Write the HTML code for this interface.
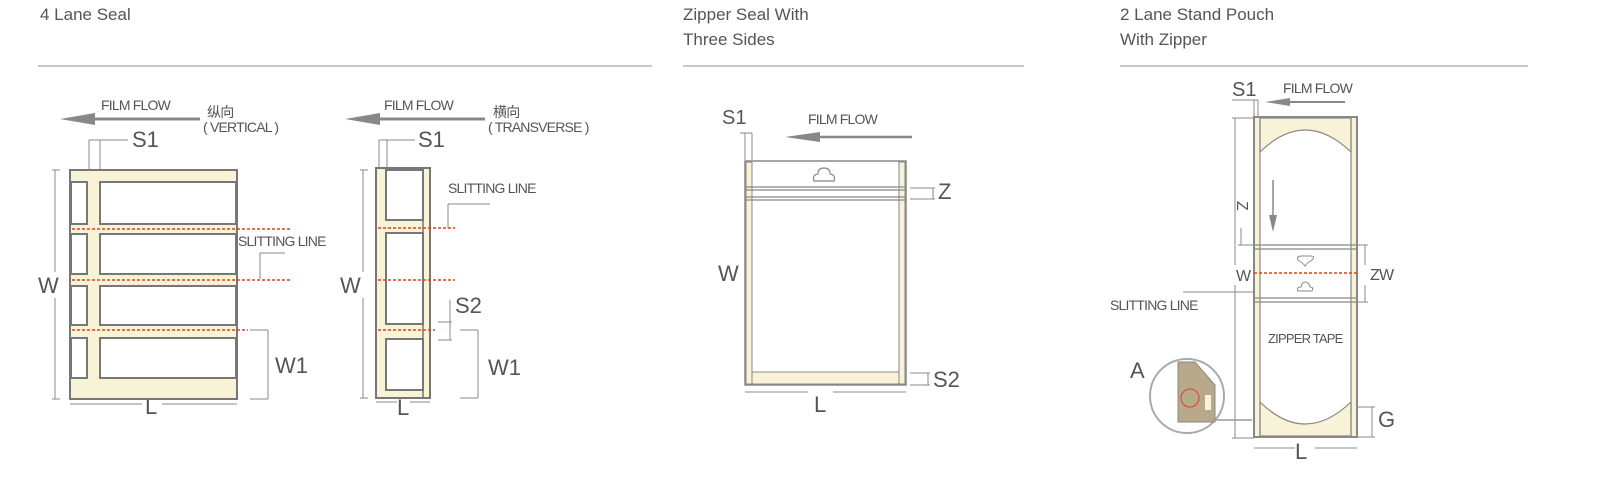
<!DOCTYPE html>
<html><head><meta charset="utf-8"><style>
html,body{margin:0;padding:0;background:#fff;width:1600px;height:479px;overflow:hidden}
svg{display:block}
text{font-family:"Liberation Sans","Noto Sans CJK SC",sans-serif;fill:#555}
.t{font-size:17px;fill:#555}
.s{font-size:14px;letter-spacing:-0.8px}
.b{font-size:22px}
</style></head><body>
<svg width="1600" height="479" viewBox="0 0 1600 479" xmlns="http://www.w3.org/2000/svg">
<defs>
<marker id="ah" markerWidth="10" markerHeight="8" refX="1" refY="4" orient="auto" markerUnits="userSpaceOnUse"><path d="M0,4 L28,0 L28,8 Z" fill="#888"/></marker>
</defs>
<!-- titles -->
<text x="40" y="20" class="t">4 Lane Seal</text>
<text x="683" y="20" class="t">Zipper Seal With</text>
<text x="683" y="45" class="t">Three Sides</text>
<text x="1120" y="20" class="t">2 Lane Stand Pouch</text>
<text x="1120" y="45" class="t">With Zipper</text>
<g stroke="#b5b5b5" stroke-width="1.5">
<line x1="38" y1="66" x2="652" y2="66"/><line x1="683" y1="66" x2="1024" y2="66"/><line x1="1120" y1="66" x2="1528" y2="66"/>
</g>

<!-- Diagram 1 -->
<g stroke="#888" stroke-width="3" fill="none"><line x1="88" y1="119" x2="200" y2="119"/></g>
<path d="M60,119 L95,113 L95,125 Z" fill="#888"/>
<text x="101" y="110" class="s">FILM  FLOW</text>
<text x="207" y="117" class="s">纵向</text>
<text x="203" y="132" class="s">( VERTICAL )</text>
<g stroke="#888" stroke-width="1" fill="none">
<line x1="89" y1="140" x2="89" y2="170"/><line x1="100" y1="140" x2="100" y2="170"/><line x1="89" y1="140" x2="128" y2="140"/>
<line x1="55" y1="170" x2="55" y2="272"/><line x1="55" y1="298" x2="55" y2="399"/>
<line x1="52" y1="170" x2="60" y2="170"/><line x1="52" y1="399" x2="60" y2="399"/>
<line x1="70" y1="404" x2="142" y2="404"/><line x1="162" y1="404" x2="237" y2="404"/>
<line x1="250" y1="330" x2="268" y2="330"/><line x1="268" y1="330" x2="268" y2="399"/><line x1="250" y1="399" x2="268" y2="399"/>
<line x1="260" y1="253" x2="260" y2="279"/><line x1="260" y1="253" x2="285" y2="253"/>
</g>
<text x="132" y="147" class="b">S1</text>
<text x="38" y="293" class="b">W</text>
<text x="145" y="414" class="b">L</text>
<text x="275" y="373" class="b">W1</text>
<text x="238" y="246" class="s">SLITTING LINE</text>
<rect x="70" y="170" width="167" height="229" fill="#f8f3d6" stroke="#777" stroke-width="2"/>
<g fill="#fff" stroke="#777" stroke-width="2">
<rect x="71" y="182" width="16" height="42"/><rect x="100" y="182" width="136" height="42"/>
<rect x="71" y="234" width="16" height="40"/><rect x="100" y="234" width="136" height="40"/>
<rect x="71" y="286" width="16" height="39"/><rect x="100" y="286" width="136" height="39"/>
<rect x="71" y="338" width="16" height="40"/><rect x="100" y="338" width="136" height="40"/>
</g>
<g stroke="#d9441c" stroke-width="1.5" stroke-dasharray="3,2">
<line x1="72" y1="229" x2="290" y2="229"/><line x1="72" y1="280" x2="290" y2="280"/><line x1="72" y1="330" x2="248" y2="330"/>
</g>

<!-- Diagram 2 -->
<g stroke="#888" stroke-width="3"><line x1="373" y1="119" x2="485" y2="119"/></g>
<path d="M345,119 L380,113 L380,125 Z" fill="#888"/>
<text x="384" y="110" class="s">FILM  FLOW</text>
<text x="493" y="117" class="s">横向</text>
<text x="488" y="132" class="s">( TRANSVERSE )</text>
<g stroke="#888" stroke-width="1" fill="none">
<line x1="379" y1="140" x2="379" y2="168"/><line x1="387" y1="140" x2="387" y2="168"/><line x1="379" y1="140" x2="415" y2="140"/>
<line x1="363" y1="170" x2="363" y2="272"/><line x1="363" y1="298" x2="363" y2="398"/>
<line x1="360" y1="170" x2="368" y2="170"/><line x1="360" y1="398" x2="368" y2="398"/>
<line x1="376" y1="402" x2="397" y2="402"/><line x1="410" y1="402" x2="430" y2="402"/>
<line x1="450" y1="300" x2="450" y2="340"/><line x1="438" y1="322" x2="452" y2="322"/><line x1="438" y1="340" x2="452" y2="340"/>
<line x1="460" y1="330" x2="478" y2="330"/><line x1="478" y1="330" x2="478" y2="398"/><line x1="460" y1="398" x2="478" y2="398"/>
<line x1="448" y1="204" x2="448" y2="228"/><line x1="448" y1="204" x2="490" y2="204"/>
</g>
<text x="418" y="147" class="b">S1</text>
<text x="340" y="293" class="b">W</text>
<text x="397" y="415" class="b">L</text>
<text x="455" y="313" class="b">S2</text>
<text x="488" y="375" class="b">W1</text>
<text x="448" y="193" class="s">SLITTING LINE</text>
<rect x="376" y="168" width="54" height="230" fill="#f8f3d6" stroke="#777" stroke-width="2"/>
<g fill="#fff" stroke="#777" stroke-width="2">
<rect x="386" y="170" width="37" height="50"/><rect x="386" y="233" width="37" height="91"/><rect x="386" y="339" width="37" height="51"/>
</g>
<line x1="423" y1="169" x2="423" y2="397" stroke="#777" stroke-width="1.5"/>
<g stroke="#d9441c" stroke-width="1.5" stroke-dasharray="3,2">
<line x1="378" y1="228" x2="455" y2="228"/><line x1="378" y1="280" x2="455" y2="280"/><line x1="378" y1="330" x2="435" y2="330"/>
</g>

<!-- Diagram 3 -->
<g stroke="#888" stroke-width="2.5"><line x1="805" y1="137" x2="912" y2="137"/></g>
<path d="M785,137 L820,132 L820,142 Z" fill="#888"/>
<text x="808" y="124" class="s">FILM  FLOW</text>
<text x="722" y="124" class="b" style="font-size:20px">S1</text>
<g stroke="#888" stroke-width="1" fill="none">
<line x1="740" y1="133" x2="752" y2="133"/><line x1="745" y1="133" x2="745" y2="160"/><line x1="752" y1="133" x2="752" y2="160"/>
<line x1="748" y1="165" x2="748" y2="260"/><line x1="748" y1="300" x2="748" y2="385"/>
<line x1="745" y1="392" x2="808" y2="392"/><line x1="833" y1="392" x2="906" y2="392"/>
<line x1="910" y1="188" x2="935" y2="188"/><line x1="910" y1="199" x2="935" y2="199"/><line x1="933" y1="188" x2="933" y2="199"/>
<line x1="910" y1="373" x2="930" y2="373"/><line x1="910" y1="385" x2="930" y2="385"/><line x1="928" y1="373" x2="928" y2="385"/>
<line x1="824" y1="200" x2="824" y2="211"/>
</g>
<text x="718" y="281" class="b">W</text>
<text x="814" y="412" class="b">L</text>
<text x="938" y="199" class="b">Z</text>
<text x="933" y="387" class="b">S2</text>
<text x="782" y="232" class="s">ZIPPER TAPE</text>
<rect x="745" y="161" width="161" height="224" fill="#fff" stroke="#888" stroke-width="1.5"/>
<rect x="746" y="162" width="6" height="222" fill="#f8f3d6" stroke="#888" stroke-width="1"/>
<rect x="899" y="162" width="6" height="222" fill="#f8f3d6" stroke="#888" stroke-width="1"/>
<rect x="752" y="372" width="147" height="12" fill="#f8f3d6" stroke="#888" stroke-width="1"/>
<g stroke="#888" stroke-width="1.2">
<line x1="745" y1="187" x2="906" y2="187"/><line x1="745" y1="190" x2="906" y2="190"/>
<line x1="745" y1="197" x2="906" y2="197"/><line x1="745" y1="200" x2="906" y2="200"/>
</g>
<path d="M814,181 Q812,175 818,174 Q818,168 824,168 Q830,168 830,174 Q836,175 834,181 Z" fill="#fff" stroke="#888" stroke-width="1.2"/>

<!-- Diagram 4 -->
<text x="1232" y="96" class="b" style="font-size:20px">S1</text>
<g stroke="#888" stroke-width="2"><line x1="1280" y1="102" x2="1345" y2="102"/></g>
<path d="M1265,102 L1290,98 L1290,106 Z" fill="#888"/>
<text x="1283" y="93" class="s">FILM  FLOW</text>
<g stroke="#888" stroke-width="1" fill="none">
<line x1="1232" y1="100" x2="1258" y2="100"/><line x1="1254" y1="100" x2="1254" y2="117"/><line x1="1258" y1="100" x2="1258" y2="117"/>
<line x1="1235" y1="118" x2="1235" y2="265"/><line x1="1235" y1="285" x2="1235" y2="438"/>
<line x1="1232" y1="118" x2="1254" y2="118"/><line x1="1232" y1="438" x2="1254" y2="438"/>
<line x1="1241" y1="228" x2="1241" y2="245"/><line x1="1238" y1="245" x2="1254" y2="245"/>
<line x1="1358" y1="245" x2="1368" y2="245"/><line x1="1358" y1="302" x2="1368" y2="302"/><line x1="1365" y1="245" x2="1365" y2="265"/><line x1="1365" y1="285" x2="1365" y2="302"/>
<line x1="1358" y1="407" x2="1375" y2="407"/><line x1="1358" y1="437" x2="1375" y2="437"/><line x1="1372" y1="407" x2="1372" y2="437"/>
<line x1="1254" y1="448" x2="1295" y2="448"/><line x1="1315" y1="448" x2="1357" y2="448"/>
<line x1="1183" y1="292" x2="1293" y2="292"/><line x1="1293" y1="276" x2="1293" y2="292"/>
<line x1="1305" y1="302" x2="1305" y2="322"/>
</g>
<text x="1236" y="281" class="s" style="font-size:16px">W</text>
<text x="1370" y="280" class="s" style="font-size:16px">ZW</text>
<text x="1110" y="310" class="s">SLITTING LINE</text>
<text x="1295" y="459" class="b">L</text>
<text x="1378" y="427" class="b">G</text>
<text x="1130" y="378" class="b">A</text>
<text x="1236" y="212" class="s" style="font-size:16px" transform="rotate(90 1242 207)">Z</text>
<rect x="1254" y="117" width="103" height="320" fill="#fff" stroke="#888" stroke-width="2"/>
<rect x="1255" y="118" width="5" height="318" fill="#f8f3d6"/><rect x="1351" y="118" width="5" height="318" fill="#f8f3d6"/>
<path d="M1260,118 L1351,118 L1351,152 Q1305,108 1260,152 Z" fill="#f8f3d6" stroke="#888" stroke-width="1.2"/>
<path d="M1260,436 L1351,436 L1351,402 Q1305,446 1260,402 Z" fill="#f8f3d6" stroke="#888" stroke-width="1.2"/>
<g stroke="#888" stroke-width="1.2">
<line x1="1260" y1="118" x2="1260" y2="436"/><line x1="1351" y1="118" x2="1351" y2="436"/>
<line x1="1254" y1="245" x2="1357" y2="245"/><line x1="1254" y1="249" x2="1357" y2="249"/>
<line x1="1254" y1="298" x2="1357" y2="298"/><line x1="1254" y1="302" x2="1357" y2="302"/>
</g>
<line x1="1273" y1="180" x2="1273" y2="220" stroke="#888" stroke-width="1.5"/>
<path d="M1273,232 L1269,215 L1277,215 Z" fill="#888"/>
<line x1="1254" y1="273" x2="1357" y2="273" stroke="#d9441c" stroke-width="1.5" stroke-dasharray="3,2"/>
<path d="M1298,260 Q1296,256 1302,256 L1310,256 Q1316,256 1312,260 Q1307,263 1305,266 Q1303,263 1298,260 Z" fill="#fff" stroke="#888"/>
<path d="M1298,291 Q1296,287 1301,287 Q1302,282 1305,282 Q1309,282 1310,287 Q1314,287 1312,291 Z" fill="#fff" stroke="#888"/>
<text x="1268" y="343" class="s" style="font-size:13px">ZIPPER TAPE</text>
<circle cx="1187" cy="396" r="37" fill="#fff" stroke="#aaa" stroke-width="2"/>
<path d="M1178,362 L1195,362 L1215,385 L1215,422 L1178,422 Z" fill="#b8a98a" stroke="#888"/>
<rect x="1205" y="395" width="6" height="15" fill="#f8f3d6"/>
<circle cx="1190" cy="398" r="9" fill="none" stroke="#d9441c"/>
<line x1="1215" y1="420" x2="1252" y2="420" stroke="#999" stroke-width="1.5"/>
</svg>
</body></html>
